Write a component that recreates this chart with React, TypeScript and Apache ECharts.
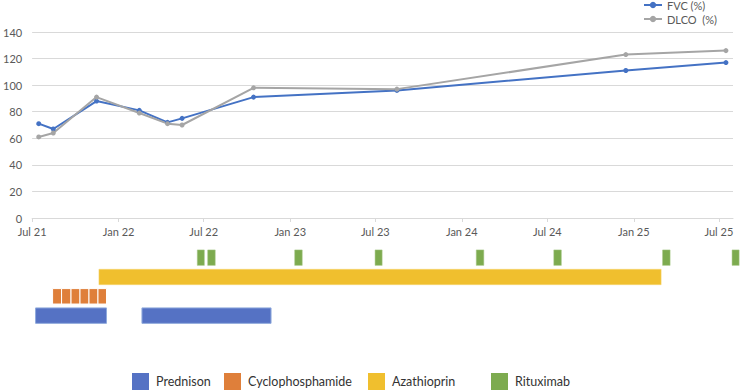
import React, { useEffect, useRef } from "react";
import * as echarts from "echarts";

// ---- measurements ----
const measureDates = [
  "2021-07-15", "2021-08-15", "2021-11-15", "2022-02-14", "2022-04-15",
  "2022-05-16", "2022-10-15", "2023-08-16", "2024-12-15", "2025-07-16",
];
const fvcValues = [71, 67, 88, 81, 72, 75, 91, 96, 111, 117];
const dlcoValues = [61, 64, 91, 79, 71, 70, 98, 97, 123, 126];

// ---- axis ----
const axisStart = "2021-07-01";
const axisEnd = "2025-07-31";
const tickDates = [
  "2021-07-01", "2022-01-01", "2022-07-01", "2023-01-01", "2023-07-01",
  "2024-01-01", "2024-07-01", "2025-01-01", "2025-07-01",
];
const tickLabels = ["Jul 21", "Jan 22", "Jul 22", "Jan 23", "Jul 23", "Jan 24", "Jul 24", "Jan 25", "Jul 25"];
const yMin = 0;
const yMax = 140;
const yStep = 20;

// ---- treatments ----
const treatmentRows = ["Rituximab", "Azathioprin", "Cyclophosphamide", "Prednison"];
const prednisonPeriods = [
  ["2021-07-17", "2021-12-14"],
  ["2022-02-27", "2022-11-27"],
];
const cyclophosphamideCycles = [
  ["2021-08-22", "2021-09-10"],
  ["2021-09-10", "2021-09-30"],
  ["2021-09-30", "2021-10-19"],
  ["2021-10-19", "2021-11-07"],
  ["2021-11-07", "2021-11-26"],
  ["2021-11-26", "2021-12-14"],
];
const azathioprinPeriods = [["2021-11-28", "2025-03-01"]];
const rituximabInfusions = [
  ["2022-06-24", "2022-07-09"],
  ["2022-07-16", "2022-08-01"],
  ["2023-01-16", "2023-02-01"],
  ["2023-07-05", "2023-07-20"],
  ["2024-02-04", "2024-02-20"],
  ["2024-07-17", "2024-08-02"],
  ["2025-03-04", "2025-03-20"],
  ["2025-07-29", "2025-08-13"],
];

const ts = (d: string) => new Date(d + "T00:00:00Z").getTime();
const FONT = "Lato, 'Noto Sans', sans-serif";

export default function App() {
  const ref = useRef<HTMLDivElement>(null);

  useEffect(() => {
    if (!ref.current) return;
    const chart = echarts.init(ref.current, undefined, { renderer: "svg" });
    const tickTs = tickDates.map(ts);

    const mkTreatment = (
      name: string,
      periods: string[][],
      color: string,
      stroke: string,
      lineWidth: number
    ) => ({
      name,
      type: "custom",
      xAxisIndex: 1,
      yAxisIndex: 1,
      clip: false,
      color,
      encode: { x: [1, 2], y: 0 },
      data: periods.map((p) => [treatmentRows.indexOf(name), ts(p[0]), ts(p[1])]),
      renderItem: (_params: any, api: any) => {
        const row = api.value(0);
        const s = api.coord([api.value(1), row]);
        const e = api.coord([api.value(2), row]);
        const h = api.size([0, 1])[1] * 0.8;
        return {
          type: "rect",
          shape: { x: s[0], y: s[1] - h / 2, width: e[0] - s[0], height: h },
          style: { fill: color, stroke, lineWidth },
        };
      },
    });

    const legendAt = (name: string, left: number) => ({
      data: [{ name, icon: "rect" }],
      left,
      top: 373,
      padding: 0,
      itemWidth: 17,
      itemHeight: 17,
      itemStyle: { borderWidth: 0 },
      selectedMode: false,
      textStyle: { fontFamily: FONT, fontSize: 12.5, color: "#333333", padding: [0, 0, 0, 2] },
    });

    const option: any = {
      animation: false,
      textStyle: { fontFamily: FONT },
      grid: [
        { left: 28, right: 7, top: 32, bottom: 173 },
        { left: 28, right: 7, top: 248, height: 77.3 },
      ],
      legend: [
        {
          data: ["FVC (%)", "DLCO  (%)"],
          orient: "vertical",
          left: 643,
          top: -1,
          padding: 0,
          itemWidth: 18,
          itemHeight: 8,
          itemGap: 2,
          selectedMode: false,
          textStyle: { fontFamily: FONT, fontSize: 11, color: "#595959", lineHeight: 12 },
        },
        legendAt("Prednison", 132),
        legendAt("Cyclophosphamide", 224),
        legendAt("Azathioprin", 368),
        legendAt("Rituximab", 491),
      ],
      xAxis: [
        {
          type: "value",
          gridIndex: 0,
          min: ts(axisStart),
          max: ts(axisEnd),
          axisLine: { show: true, lineStyle: { color: "#D9D9D9", width: 1 } },
          axisTick: {
            show: true,
            customValues: tickTs,
            length: 4,
            lineStyle: { color: "#D9D9D9" },
          },
          axisLabel: {
            customValues: tickTs,
            margin: 8,
            color: "#595959",
            fontSize: 11,
            fontFamily: FONT,
            formatter: (v: number) => {
              const i = tickTs.indexOf(v);
              return i >= 0 ? tickLabels[i] : "";
            },
          },
          splitLine: { show: false },
        },
        {
          type: "value",
          gridIndex: 1,
          min: ts(axisStart),
          max: ts(axisEnd),
          show: false,
          splitLine: { show: false },
        },
      ],
      yAxis: [
        {
          type: "value",
          gridIndex: 0,
          min: yMin,
          max: yMax,
          interval: yStep,
          axisLine: { show: false },
          axisTick: { show: false },
          axisLabel: { color: "#595959", fontSize: 11, fontFamily: FONT, margin: 10 },
          splitLine: { lineStyle: { color: "#D9D9D9", width: 1 } },
        },
        {
          type: "category",
          gridIndex: 1,
          data: treatmentRows,
          inverse: true,
          show: false,
        },
      ],
      series: [
        {
          name: "FVC (%)",
          type: "line",
          xAxisIndex: 0,
          yAxisIndex: 0,
          data: measureDates.map((d, i) => [ts(d), fvcValues[i]]),
          color: "#4472C4",
          symbol: "circle",
          symbolSize: 5,
          lineStyle: { width: 2 },
        },
        {
          name: "DLCO  (%)",
          type: "line",
          xAxisIndex: 0,
          yAxisIndex: 0,
          data: measureDates.map((d, i) => [ts(d), dlcoValues[i]]),
          color: "#A5A5A5",
          symbol: "circle",
          symbolSize: 5,
          lineStyle: { width: 2 },
        },
        mkTreatment("Prednison", prednisonPeriods, "#5572C4", "#8FAADC", 1),
        mkTreatment("Cyclophosphamide", cyclophosphamideCycles, "#DF7F3A", "#FFFFFF", 1),
        mkTreatment("Azathioprin", azathioprinPeriods, "#F0BF2E", "#F7D774", 0.5),
        mkTreatment("Rituximab", rituximabInfusions, "#7DAB4F", "#A9C98A", 0.5),
      ],
    };

    chart.setOption(option);
    return () => chart.dispose();
  }, []);

  return (
    <div
      ref={ref}
      style={{ position: "fixed", left: 0, top: 0, width: 740, height: 391, background: "#fff" }}
    />
  );
}
